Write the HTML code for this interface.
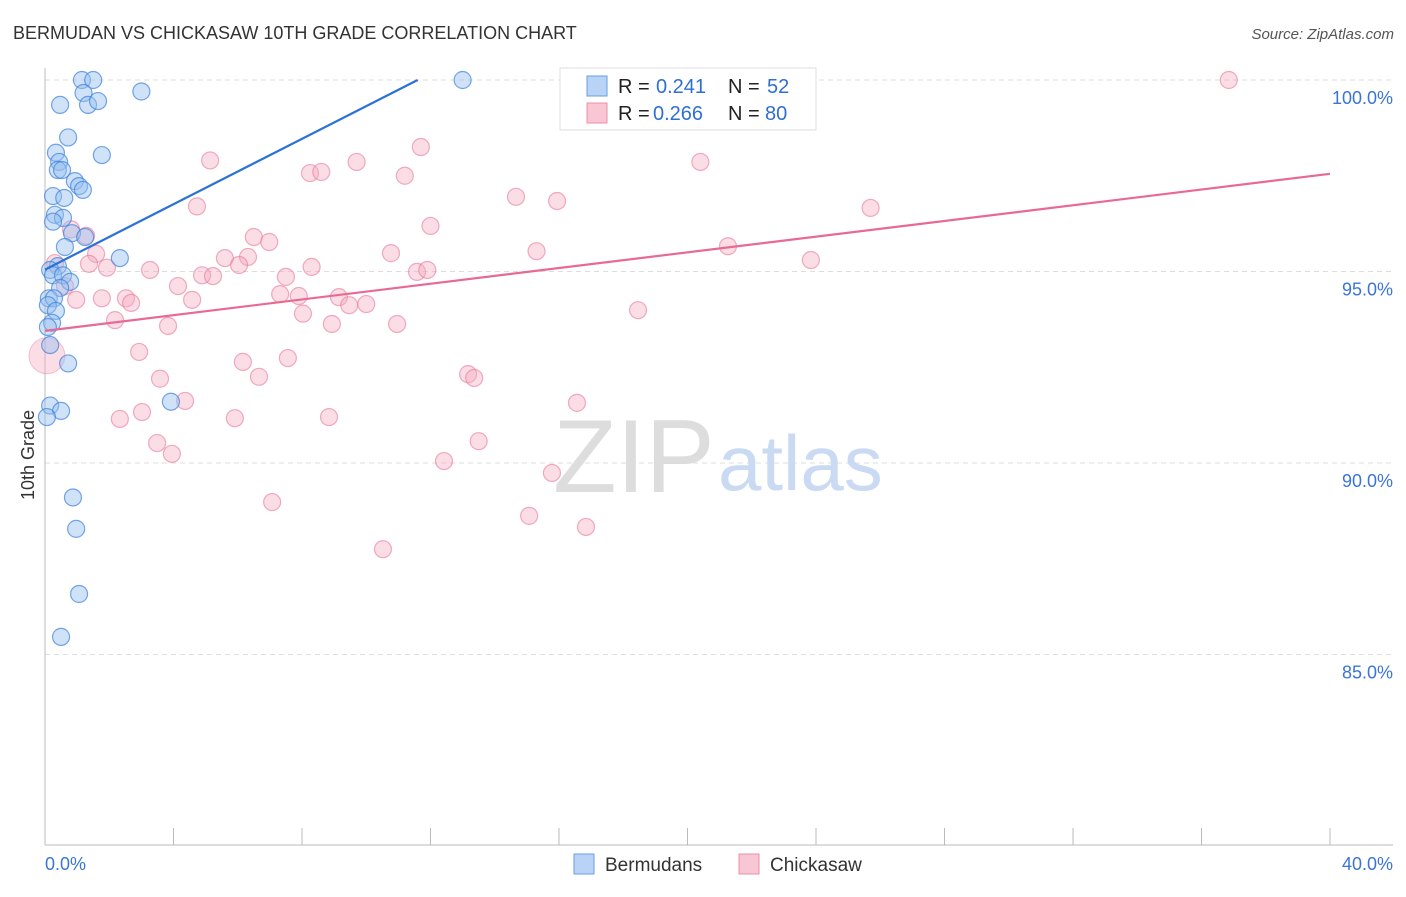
<!DOCTYPE html>
<html><head><meta charset="utf-8"><style>
body{margin:0;background:#fff;font-family:"Liberation Sans",sans-serif}
svg text{font-family:"Liberation Sans",sans-serif}
</style></head><body>
<svg id="c" width="1406" height="892">
<text x="13" y="39" font-size="18" fill="#333">BERMUDAN VS CHICKASAW 10TH GRADE CORRELATION CHART</text>
<text x="1394" y="39" font-size="15" fill="#555" font-style="italic" text-anchor="end">Source: ZipAtlas.com</text>
<g id="grid"></g>
<text x="553" y="492" font-size="104" fill="#ddd" font-family="Liberation Serif,serif">ZIP</text>
<text x="718" y="490" font-size="78" fill="#c9daf2">atlas</text>
<g id="pts"></g>
<g id="lines"></g>
<text transform="translate(34,455) rotate(-90)" font-size="18" fill="#333" text-anchor="middle">10th Grade</text>
<g>
<rect x="560" y="68" width="256" height="62" fill="#fff" stroke="#ddd"/>
<rect x="587" y="76" width="20" height="20" fill="#b8d3f5" stroke="#6a9de0"/>
<rect x="587" y="103" width="20" height="20" fill="#f9c6d4" stroke="#ec8fab"/>
<text x="618" y="93" font-size="20" fill="#222">R =</text>
<text x="656" y="93" font-size="20" fill="#2f6fd3">0.241</text>
<text x="728" y="93" font-size="20" fill="#222">N =</text>
<text x="767" y="93" font-size="20" fill="#2f6fd3">52</text>
<text x="618" y="120" font-size="20" fill="#222">R =</text>
<text x="653" y="120" font-size="20" fill="#2f6fd3">0.266</text>
<text x="728" y="120" font-size="20" fill="#222">N =</text>
<text x="765" y="120" font-size="20" fill="#2f6fd3">80</text>
</g>
<g>
<rect x="574" y="854" width="20" height="20" fill="#b8d3f5" stroke="#6a9de0"/>
<text x="605" y="871" font-size="19" fill="#333">Bermudans</text>
<rect x="739" y="854" width="20" height="20" fill="#f9c6d4" stroke="#ec8fab"/>
<text x="770" y="871" font-size="19" fill="#333">Chickasaw</text>
</g>
</svg>
<script>
const yTicks=[100,95,90,85];
const xTickLabels=["0.0%","40.0%"];
const blueX=[1.15,1.5,13.0,3.0,1.2,0.47,1.34,1.65,0.72,1.77,0.34,0.44,0.4,0.53,0.93,1.06,1.18,0.25,0.6,0.31,0.56,0.25,0.84,1.25,0.62,2.33,0.4,0.16,0.25,0.56,0.78,0.47,0.12,0.28,0.09,0.34,0.22,0.09,0.16,0.72,3.92,0.16,0.5,0.06,0.87,0.97,1.06,0.5];
const blueY=[100,100,100,99.7,99.66,99.35,99.35,99.45,98.5,98.04,98.1,97.86,97.65,97.65,97.36,97.23,97.13,96.97,96.92,96.48,96.4,96.3,96.0,95.9,95.64,95.35,95.14,95.04,94.9,94.9,94.73,94.57,94.3,94.3,94.12,93.97,93.66,93.55,93.08,92.6,91.6,91.5,91.36,91.2,89.1,88.28,86.58,85.46];
const pinkX=[5.14,11.7,9.7,8.25,8.6,11.2,20.4,18.3,19.2,21.0,36.85,4.73,14.66,15.94,25.7,12.0,6.5,6.98,15.3,21.26,10.77,1.28,0.81,23.84,1.59,1.37,1.93,3.27,5.6,6.32,6.04,4.89,5.23,8.3,7.5,11.58,11.9,0.31,0.62,4.14,0.97,1.77,2.52,2.68,4.58,7.32,7.9,9.15,9.47,10.0,8.03,2.18,3.83,8.93,10.96,18.46,2.93,6.16,7.56,3.58,6.66,13.17,13.36,4.36,16.56,3.02,2.33,5.91,8.84,3.49,13.5,3.95,12.42,15.78,7.07,15.07,16.84,10.52];
const pinkY=[97.9,98.25,97.86,97.57,97.6,97.5,97.86,100,100,100,100,96.7,96.95,96.84,96.66,96.19,95.9,95.77,95.53,95.66,95.48,95.93,96.1,95.3,95.46,95.2,95.1,95.04,95.35,95.38,95.17,94.9,94.88,95.12,94.86,94.99,95.04,95.22,94.62,94.62,94.26,94.3,94.3,94.18,94.26,94.41,94.36,94.33,94.12,94.15,93.9,93.73,93.58,93.63,93.63,93.99,92.9,92.64,92.74,92.2,92.25,92.32,92.22,91.62,91.57,91.33,91.15,91.17,91.2,90.52,90.57,90.24,90.05,89.74,88.98,88.62,88.33,87.75];
const bigPink=[0.06,92.8];
const blueLine=[[0,95.05],[11.6,100]];
const pinkLine=[[0,93.45],[40,97.55]];
const NS="http://www.w3.org/2000/svg";
const xs=v=>45+v/40*1285, ys=v=>80+(100-v)*38.3;
function mk(t,a,p){const e=document.createElementNS(NS,t);for(const k in a)e.setAttribute(k,a[k]);document.getElementById(p).appendChild(e);return e;}
yTicks.forEach(t=>{
 const l=mk('line',{x1:45,x2:1393,y1:ys(t),y2:ys(t),stroke:'#ddd','stroke-dasharray':'5,4'},'grid');
 
 
 const tx=mk('text',{x:1393,y:ys(t)+24,'font-size':18,fill:'#3a75d6','text-anchor':'end'},'grid');
 tx.textContent=t.toFixed(1)+'%';
 
 
});
const ax=mk('line',{x1:45,x2:1393,y1:845,y2:845,stroke:'#bbb'},'grid');


const ay=mk('line',{x1:45,x2:45,y1:68,y2:845,stroke:'#bbb'},'grid');


for(let i=0;i<=10;i++){const t=mk('line',{x1:xs(i*4),x2:xs(i*4),y1:828,y2:845,stroke:'#bbb'},'grid');
 
 }
xTickLabels.forEach((s,i)=>{const t=mk('text',{x:i?1393:45,y:870,'font-size':18,fill:'#3a75d6','text-anchor':i?'end':'start'},'grid');t.textContent=s;
 
 });
pinkX.forEach((x,i)=>{const c=mk('circle',{cx:xs(x),cy:ys(pinkY[i]),r:8.5,fill:'rgba(246,170,192,0.4)',stroke:'rgba(232,120,155,0.6)','stroke-width':1.2},'pts');
 
 });
const bp=mk('circle',{cx:xs(bigPink[0]),cy:ys(bigPink[1]),r:18,fill:'rgba(246,170,192,0.4)',stroke:'rgba(232,120,155,0.4)'},'pts');


blueX.forEach((x,i)=>{const c=mk('circle',{cx:xs(x),cy:ys(blueY[i]),r:8.5,fill:'rgba(150,190,240,0.45)',stroke:'rgba(60,130,220,0.7)','stroke-width':1.2},'pts');
 
 });
const bl=mk('line',{x1:xs(blueLine[0][0]),y1:ys(blueLine[0][1]),x2:xs(blueLine[1][0]),y2:ys(blueLine[1][1]),stroke:'#2a72d6','stroke-width':2.2},'lines');


const pl=mk('line',{x1:xs(pinkLine[0][0]),y1:ys(pinkLine[0][1]),x2:xs(pinkLine[1][0]),y2:ys(pinkLine[1][1]),stroke:'#e86a94','stroke-width':2.2},'lines');


</script>
</body></html>
